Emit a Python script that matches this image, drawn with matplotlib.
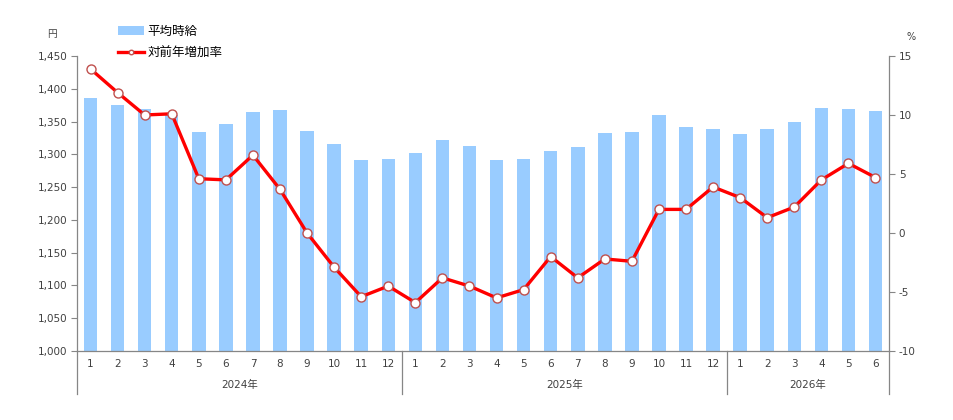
import numpy as np
import matplotlib.pyplot as plt
from matplotlib.ticker import FuncFormatter
import matplotlib.transforms as mtransforms

plt.rcParams['font.family'] = ['DejaVu Sans', 'Noto Sans CJK JP']
plt.rcParams['axes.unicode_minus'] = False

years = ['2024年', '2025年', '2026年']
months_per_year = [12, 12, 6]
months = [str(m) for n in months_per_year for m in range(1, n + 1)]

wage = [1386, 1375, 1369, 1360, 1334, 1346, 1365, 1368, 1336, 1316, 1291, 1293,
        1302, 1322, 1313, 1291, 1293, 1305, 1311, 1333, 1334, 1360, 1342, 1339,
        1331, 1339, 1349, 1371, 1369, 1366]
growth = [13.9, 11.9, 10.0, 10.1, 4.6, 4.5, 6.6, 3.7, 0.0, -2.9, -5.4, -4.5,
          -5.9, -3.8, -4.5, -5.5, -4.8, -2.0, -3.8, -2.2, -2.4, 2.0, 2.0, 3.9,
          3.0, 1.3, 2.2, 4.5, 5.9, 4.7]

text_c = '#404040'
spine_c = '#868686'

fig = plt.figure(figsize=(9.54, 4.2), dpi=100)
ax = fig.add_axes([0.0807, 0.1643, 0.8512, 0.7024])
x = np.arange(len(months))

ax.bar(x, wage, width=0.5, color='#99CCFF', label='平均時給', zorder=2)
ax.set_ylim(1000, 1450)
ax.set_yticks(np.arange(1000, 1451, 50))
ax.yaxis.set_major_formatter(FuncFormatter(lambda v, p: f'{int(v):,}'))
ax.set_xlim(-0.5, len(months) - 0.5)
ax.set_xticks(x)
ax.set_xticklabels(months)
ax.tick_params(axis='x', length=0, pad=6, labelsize=7.5, colors=text_c)
ax.tick_params(axis='y', length=4, width=0.8, color=spine_c, labelsize=7.5,
               labelcolor=text_c, pad=3)
for s in ['top', 'right']:
    ax.spines[s].set_visible(False)
for s in ['left', 'bottom']:
    ax.spines[s].set_color(spine_c)
    ax.spines[s].set_linewidth(0.9)

ax2 = ax.twinx()
ax2.plot(x, growth, color='#FF0000', lw=2.4, marker='o', markersize=6.5,
         markerfacecolor='white', markeredgecolor='#C0504D', markeredgewidth=1,
         label='対前年増加率', zorder=3)
ax2.set_ylim(-10, 15)
ax2.set_yticks(np.arange(-10, 16, 5))
ax2.tick_params(axis='y', length=4, width=0.8, color=spine_c, labelsize=7.5,
                labelcolor=text_c, pad=3)
for s in ['top', 'left', 'bottom']:
    ax2.spines[s].set_visible(False)
ax2.spines['right'].set_color(spine_c)
ax2.spines['right'].set_linewidth(0.9)

# year separators and labels below the axis
trans = mtransforms.blended_transform_factory(ax.transData, ax.transAxes)
bounds = np.concatenate([[0], np.cumsum(months_per_year)]) - 0.5
for b in bounds:
    ax.plot([b, b], [0, -0.145], transform=trans, color=spine_c, lw=0.9,
            clip_on=False)
for i, yr in enumerate(years):
    ax.text((bounds[i] + bounds[i + 1]) / 2, -0.115, yr, transform=trans,
            ha='center', va='center', fontsize=7.5, color=text_c)

fig.text(0.055, 0.918, '円', fontsize=7, color=text_c, ha='center', va='center',
         family=['Noto Sans CJK JP'])
fig.text(0.955, 0.913, '%', fontsize=7, color=text_c, ha='center', va='center')

h1, l1 = ax.get_legend_handles_labels()
h2, l2 = ax2.get_legend_handles_labels()
fig.legend(h1 + h2, l1 + l2, loc='upper left', bbox_to_anchor=(0.112, 0.967),
           frameon=False, prop={'family': ['Noto Sans CJK JP'], 'size': 9},
           labelspacing=0.7, handlelength=2.1, handletextpad=0.25,
           markerscale=0.5)

fig.savefig('out.png', dpi=100)
